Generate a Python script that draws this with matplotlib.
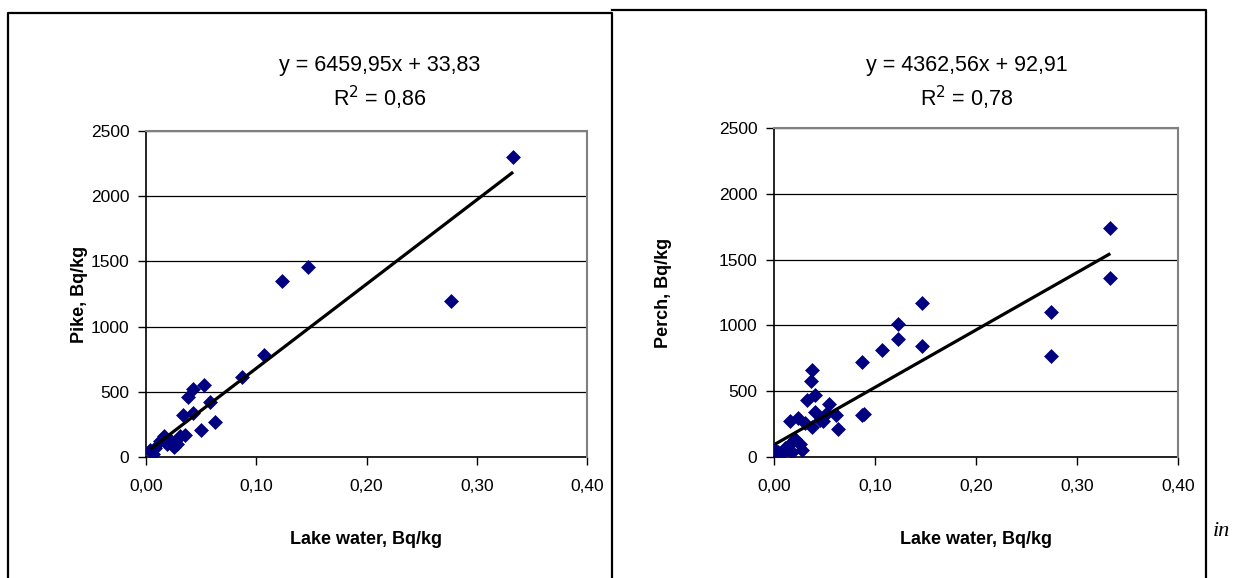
import numpy as np
import matplotlib.pyplot as plt
from matplotlib.lines import Line2D
from matplotlib.ticker import FuncFormatter, MultipleLocator

# Lake water activity vs fish activity, Bq/kg
pike_x = [0.333, 0.277, 0.147, 0.123, 0.107, 0.087, 0.053, 0.043, 0.038, 0.058,
          0.034, 0.043, 0.063, 0.050, 0.035, 0.031, 0.016, 0.022, 0.028, 0.019,
          0.013, 0.008, 0.004, 0.006, 0.025]
pike_y = [2300, 1200, 1460, 1350, 780, 610, 550, 520, 460, 420,
          320, 340, 270, 210, 170, 160, 160, 130, 100, 100,
          120, 70, 50, 20, 80]
pike_fit = (6459.95, 33.83, 0.86)

perch_x = [0.333, 0.333, 0.274, 0.274, 0.147, 0.147, 0.123, 0.123, 0.107, 0.087,
           0.087, 0.089, 0.038, 0.037, 0.041, 0.033, 0.054, 0.041, 0.051, 0.061,
           0.063, 0.049, 0.038, 0.046, 0.031, 0.024, 0.016, 0.021, 0.026, 0.028,
           0.016, 0.011, 0.004, 0.001, 0.008, 0.018, 0.013]
perch_y = [1740, 1360, 1100, 770, 1170, 840, 1010, 900, 810, 720,
           320, 330, 660, 580, 470, 430, 400, 340, 330, 320,
           210, 270, 230, 280, 260, 300, 270, 140, 100, 50,
           100, 70, 40, 50, 30, 40, 60]
perch_fit = (4362.56, 92.91, 0.78)

x_label = "Lake water, Bq/kg"

plt.rcParams['font.family'] = ['Liberation Sans', 'DejaVu Sans']

W, H = 1239, 578
fig = plt.figure(figsize=(W / 100, H / 100), dpi=100)


def rect(x0, y0, x1, y1):
    # pixel box -> figure fraction
    return [x0 / W, 1 - y1 / H, (x1 - x0) / W, (y1 - y0) / H]


def comma(v, pos, nd=2):
    return f"{v:.{nd}f}".replace('.', ',')


def panel(box, xs, ys, fit, ylabel, ylab_px, eq_px):
    ax = fig.add_axes(rect(*box))
    ax.scatter(xs, ys, marker='D', s=50, color='#000080', edgecolor='#000080',
               linewidths=0.5, zorder=3)
    slope, icpt, r2 = fit
    xl = np.array([min(xs), max(xs)])
    ax.plot(xl, slope * xl + icpt, color='black', lw=2.3, zorder=4,
            solid_capstyle='butt')

    ax.set_xlim(0, 0.4)
    ax.set_ylim(0, 2500)
    ax.xaxis.set_major_locator(MultipleLocator(0.1))
    ax.yaxis.set_major_locator(MultipleLocator(500))
    ax.xaxis.set_major_formatter(FuncFormatter(comma))
    ax.yaxis.set_major_formatter(FuncFormatter(lambda v, p: f"{v:.0f}"))
    ax.tick_params(direction='out', length=6, width=1, labelsize=12.5, colors='black')
    ax.tick_params(axis='x', pad=10)
    ax.tick_params(axis='y', pad=6)

    ax.grid(axis='y', color='black', lw=0.9)
    ax.set_axisbelow(True)
    for s in ['top', 'right']:
        ax.spines[s].set_color('#808080')
        ax.spines[s].set_linewidth(1.5)
        ax.spines[s].set_zorder(5)
    for s in ['left', 'bottom']:
        ax.spines[s].set_color('black')
        ax.spines[s].set_linewidth(1.2)

    x0, y0, x1, y1 = box
    fig.text((x0 + x1) / 2 / W, 1 - 540 / H, x_label, ha='center', va='center',
             fontsize=13, fontweight='bold')
    fig.text(ylab_px / W, 1 - (y0 + y1) / 2 / H, ylabel, ha='center', va='center',
             rotation=90, fontsize=13, fontweight='bold')

    ex = eq_px / W
    fig.text(ex, 1 - 65 / H, f"y = {comma(slope, 0)}x + {comma(icpt, 0)}",
             ha='center', va='center', fontsize=15.5)
    fig.text(ex, 1 - 98 / H, f"R$^2$ = {comma(r2, 0)}",
             ha='center', va='center', fontsize=15.5)
    return ax


panel((146, 131, 587, 457), pike_x, pike_y, pike_fit, "Pike, Bq/kg", 80, 380)
panel((774, 128, 1178, 457), perch_x, perch_y, perch_fit, "Perch, Bq/kg", 664, 967)

# outer frames
for xs_, ys_ in [([8, 8, 612, 612], [578, 13, 13, 578]),
                 ([612, 1206, 1206], [10, 10, 578])]:
    fig.add_artist(Line2D([v / W for v in xs_], [1 - v / H for v in ys_],
                          color='black', lw=1.6, transform=fig.transFigure))

fig.text(1213 / W, 1 - 532 / H, "in", fontsize=16, style='italic',
         family=['Liberation Serif', 'DejaVu Serif'], ha='left', va='center')

fig.savefig("out.png", dpi=100)
